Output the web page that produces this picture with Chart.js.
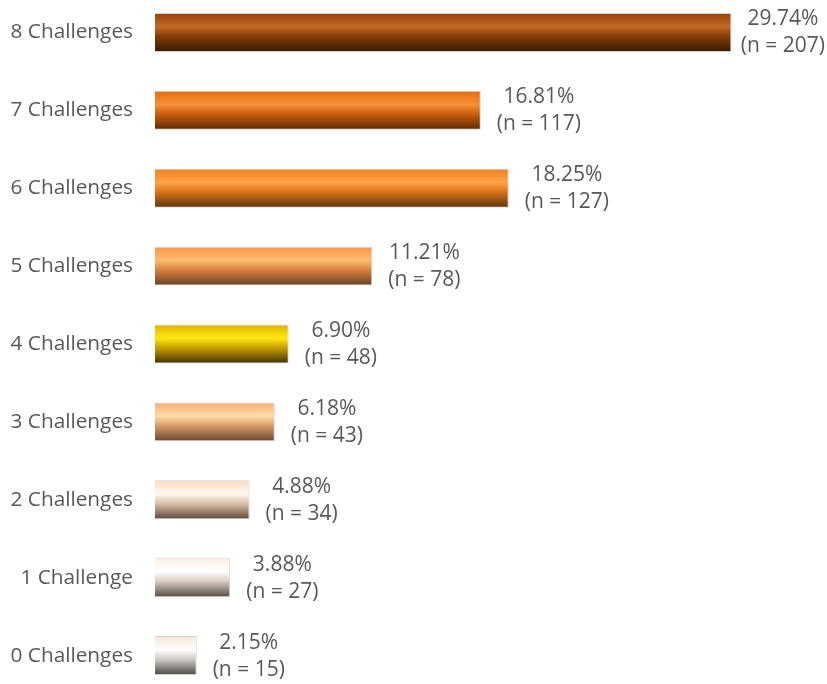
<!DOCTYPE html>
<html>
<head>
<meta charset="utf-8">
<script src="https://cdn.jsdelivr.net/npm/chart.js@4/dist/chart.umd.min.js"></script>
<style>
  html, body { margin: 0; padding: 0; background: #fff; overflow: hidden; }
  #chart { position: absolute; left: 0; top: -19px; }
</style>
</head>
<body>
<canvas id="chart" width="827" height="726"></canvas>
<script>
// Chart data
const categories = ['8 Challenges', '7 Challenges', '6 Challenges', '5 Challenges', '4 Challenges',
  '3 Challenges', '2 Challenges', '1 Challenge', '0 Challenges'];
const percents = [29.74, 16.81, 18.25, 11.21, 6.90, 6.18, 4.88, 3.88, 2.15];
const counts = [207, 117, 127, 78, 48, 43, 34, 27, 15];

// Gradient stops per bar: top, highlight band, mid, bottom
const barShades = [
  ['#93440a', '#c46828', '#843c08', '#361903'],
  ['#e46c0a', '#f7913a', '#c85e0c', '#5a2a06'],
  ['#f27f1c', '#ffa448', '#d87218', '#5e3410'],
  ['#f79446', '#ffbd72', '#d6813e', '#664022'],
  ['#e0b000', '#ffe812', '#c89c00', '#3e3000'],
  ['#f8ae72', '#ffdaa8', '#d99a66', '#634630'],
  ['#fbdcc0', '#fff8ee', '#d9bfa8', '#594639'],
  ['#fcefe2', '#ffffff', '#d6cac0', '#544a44'],
  ['#f4e6dc', '#ffffff', '#cfc8c4', '#4a4644'],
];

const FONT = "'Open Sans', sans-serif";
const TEXT = '#595959';

function barGradient(ctx) {
  const chart = ctx.chart;
  const yScale = chart.scales.y;
  if (!yScale || !chart.chartArea) return barShades[ctx.dataIndex][0];
  const cy = yScale.getPixelForValue(ctx.dataIndex);
  const half = 19.5;
  const g = chart.ctx.createLinearGradient(0, cy - half, 0, cy + half);
  const s = barShades[ctx.dataIndex];
  g.addColorStop(0, s[0]);
  g.addColorStop(0.35, s[1]);
  g.addColorStop(0.6, s[2]);
  g.addColorStop(1, s[3]);
  return g;
}

// Two-line value labels to the right of each bar
const valueLabels = {
  id: 'valueLabels',
  afterDatasetsDraw(chart) {
    const ctx = chart.ctx;
    const meta = chart.getDatasetMeta(0);
    ctx.save();
    ctx.font = '21px ' + FONT;
    ctx.fillStyle = TEXT;
    ctx.textAlign = 'center';
    ctx.textBaseline = 'middle';
    meta.data.forEach((bar, i) => {
      const l1 = percents[i].toFixed(2) + '%';
      const l2 = '(n = ' + counts[i] + ')';
      const w = Math.max(ctx.measureText(l1).width, ctx.measureText(l2).width);
      let left = bar.x + 16;
      if (left + w > chart.width - 2) left = chart.width - 2 - w;
      const cx = left + w / 2;
      ctx.fillText(l1, cx, bar.y - 13);
      ctx.fillText(l2, cx, bar.y + 14);
    });
    ctx.restore();
  }
};

new Chart(document.getElementById('chart'), {
  type: 'bar',
  data: {
    labels: categories,
    datasets: [{
      data: percents,
      backgroundColor: barGradient,
      borderColor: '#d8d0c8',
      borderWidth: 1,
      barPercentage: 0.5,
      categoryPercentage: 1.0,
    }]
  },
  options: {
    indexAxis: 'y',
    responsive: false,
    animation: false,
    layout: { padding: { left: 0, right: 13, top: 0, bottom: 0 } },
    plugins: {
      legend: { display: false },
      tooltip: { enabled: false }
    },
    scales: {
      x: { display: false, min: 0, max: 34 },
      y: {
        afterFit: (scale) => { scale.width = 155; },
        // transparent tick marks give the 22px gap without padding the axis ends
        grid: { color: 'rgba(0,0,0,0)', drawOnChartArea: false, drawTicks: true, tickLength: 22 },
        border: { display: false },
        ticks: { color: TEXT, font: { family: FONT, size: 20.8 }, padding: 0 }
      }
    }
  },
  plugins: [valueLabels]
});
</script>
</body>
</html>
